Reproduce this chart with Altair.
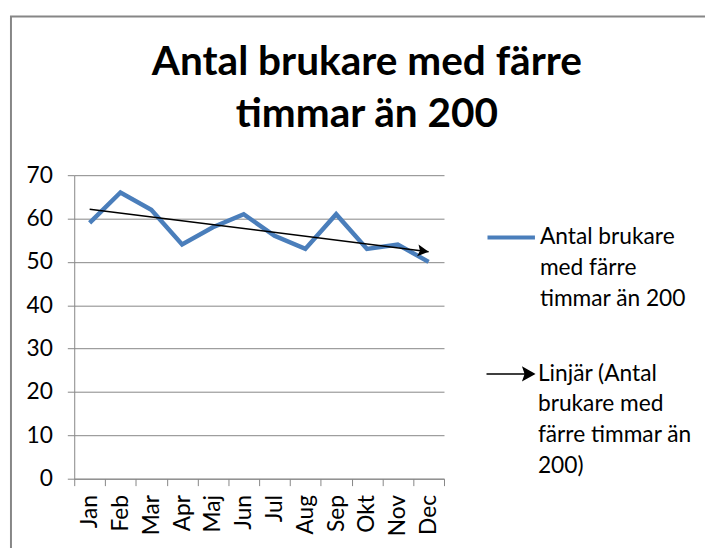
import json
import altair as alt
import pandas as pd

# ---- data ----
months = ["Jan", "Feb", "Mar", "Apr", "Maj", "Jun", "Jul", "Aug", "Sep", "Okt", "Nov", "Dec"]
values = [59, 66, 62, 54, 58, 61, 56, 53, 61, 53, 54, 50]
series_name = "Antal brukare med färre timmar än 200"
trend_name = "Linjär (Antal brukare med färre timmar än 200)"
series_lines = ["Antal brukare", "med färre", "timmar än 200"]
trend_lines = ["Linjär (Antal", "brukare med", "färre timmar än", "200)"]
title_lines = ["Antal brukare med färre", "timmar än 200"]
y_ticks = [0, 10, 20, 30, 40, 50, 60, 70]

df = pd.DataFrame({"month": months, "value": values, "i": list(range(len(months)))})
df["series"] = series_name

FONT = "Lato"
GREY = "#868686"
BLUE = "#4A7EBB"
FS = 23

x_enc = alt.X(
    "month:N", sort=months,
    scale=alt.Scale(type="band", paddingInner=0, paddingOuter=0),
    axis=alt.Axis(title=None, labelAngle=270, labelAlign="right", labelBaseline="middle",
                  tickBand="extent", tickSize=7, labelPadding=9, grid=False,
                  domainColor=GREY, tickColor=GREY, labelFontSize=FS, labelFont=FONT,
                  labelColor="black"),
)
y_enc = alt.Y(
    "value:Q",
    scale=alt.Scale(domain=[0, 70], nice=False, zero=True),
    axis=alt.Axis(values=y_ticks, title=None, grid=True, gridColor=GREY, domainColor=GREY,
                  tickColor=GREY, tickSize=7, labelPadding=15, labelFontSize=FS,
                  labelFont=FONT, labelColor="black"),
)

base = alt.Chart(df)

frame = alt.Chart(alt.Data(values=[{"a": 1}])).mark_rect(
    fill="transparent", stroke=GREY, strokeWidth=2
).encode(x=alt.value(-64), x2=alt.value(800), y=alt.value(-160.5), y2=alt.value(500))

leg1 = alt.Legend(
    title=None, orient="none", legendX=416, legendY=37, symbolType="stroke",
    symbolSize=2304, symbolStrokeWidth=4, labelFontSize=FS, labelFont=FONT,
    labelColor="black", labelLimit=400, labelOffset=3, padding=0, labelBaseline="middle",
    labelExpr=json.dumps(series_lines),
)
arrow_path = "M-1,0L0.7,0M1,0L0.55,-0.25L0.64,0L0.55,0.25Z"
leg2 = alt.Legend(
    title=None, orient="none", legendX=416, legendY=176, symbolType=arrow_path,
    symbolSize=2304, symbolStrokeWidth=1.5, symbolFillColor="black",
    labelFontSize=FS, labelFont=FONT, labelColor="black", labelLimit=400,
    labelOffset=3, padding=0, labelBaseline="middle",
    labelExpr=json.dumps(trend_lines),
)

line = base.mark_line(strokeWidth=4.5, strokeJoin="miter").encode(
    x=x_enc, y=y_enc,
    color=alt.Color("series:N", scale=alt.Scale(domain=[series_name], range=[BLUE]), legend=leg1),
)

month_lookup = json.dumps(months) + "[round(datum.i)]"

trend_base = base.transform_regression("i", "value").transform_calculate(
    month=month_lookup, trend=json.dumps(trend_name)
)

trend = trend_base.mark_line(strokeWidth=1.5, color="black").encode(
    x=alt.X("month:N", sort=months),
    y=alt.Y("value:Q"),
    color=alt.Color("trend:N", scale=alt.Scale(domain=[trend_name], range=["black"]), legend=leg2),
)

head = trend_base.transform_joinaggregate(maxi="max(i)").transform_filter(
    "datum.i == datum.maxi"
).mark_point(
    shape="M0,0L-1,-0.55L-0.8,0L-1,0.55Z", filled=True, color="black", opacity=1,
    size=484, angle=7, strokeWidth=0
).encode(x=alt.X("month:N", sort=months), y=alt.Y("value:Q"))

chart = alt.layer(frame, line, trend, head).resolve_scale(color="independent").properties(
    width=374, height=307,
    autosize=alt.AutoSizeParams(type="none"),
    padding={"left": 67, "top": 166, "right": 264, "bottom": 67},
    title=alt.TitleParams(
        text=title_lines, anchor="middle", frame="group", dx=109, offset=0, dy=122,
        fontSize=41, font=FONT, fontWeight="bold", color="black", lineHeight=53,
    ),
).configure(
    view={"stroke": "transparent"},
    style={"guide-label": {"lineHeight": 31}},
)

chart.save("out.html", embed_options={"renderer": "svg", "actions": False})
